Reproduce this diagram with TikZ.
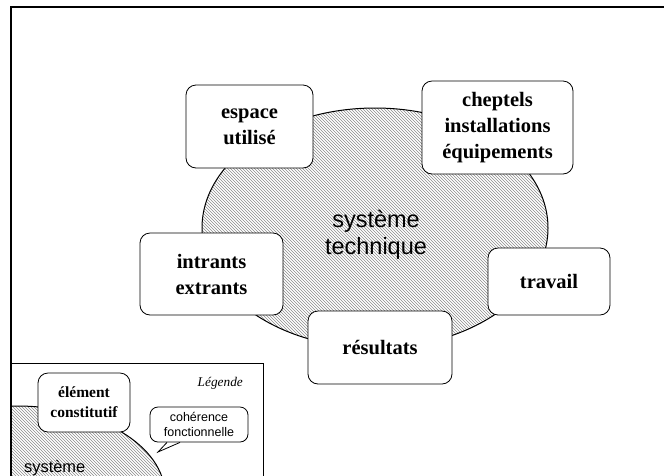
\documentclass[tikz,border=0pt]{standalone}
\usepackage{fontspec}
\setmainfont{Liberation Serif}
\setsansfont{Liberation Sans}
\usetikzlibrary{patterns}
\begin{document}
\begin{tikzpicture}[x=1pt,y=-1pt,
  elem/.style={draw, fill=white, rounded corners=10pt, line width=0.8pt,
    font=\fontsize{20.5}{26}\selectfont\bfseries, align=center, inner sep=0pt},
  hatch/.style={pattern=north west lines, pattern color=black!45},
  sansbig/.style={font=\sffamily\fontsize{23.5}{27}\selectfont, align=center, inner sep=0pt}]
\useasboundingbox (0,0) rectangle (664,475);
\fill[white] (0,0) rectangle (664,475);
% main ellipse
\draw[hatch, line width=1pt] (375,228) ellipse [x radius=173, y radius=120];
\node[sansbig] (sys) at (376,235) {système\\technique};
% elements
\node[elem, minimum width=127pt, minimum height=83pt] (esp) at (249.5,126.5) {espace\\utilisé};
\node[elem, minimum width=151pt, minimum height=93pt] (chep) at (497.5,127.5) {cheptels\\installations\\équipements};
\node[elem, minimum width=143pt, minimum height=82pt] (intr) at (211.5,274) {intrants\\extrants};
\node[elem, minimum width=122pt, minimum height=67pt] (trav) at (549,281.5) {travail};
\node[elem, minimum width=144pt, minimum height=73pt] (res) at (380,347.5) {résultats};
% legend
\begin{scope}
  \clip (10,363) rectangle (263,476);
  \draw[hatch, line width=1pt] (17,495) ellipse [x radius=148, y radius=89];
\end{scope}
\draw[line width=0.8pt] (10,363) -- (263,363) -- (263,476);
\node[font=\fontsize{13.3}{15}\selectfont\itshape, anchor=east, inner sep=0pt] (leg) at (243,383) {Légende};
\node[elem, font=\fontsize{15.5}{20}\selectfont\bfseries, minimum width=92pt, minimum height=59pt] (elt) at (84,402.5) {élément\\constitutif};
\node[draw, fill=white, rounded corners=8pt, line width=0.8pt, minimum width=98pt, minimum height=35pt,
  font=\sffamily\fontsize{12.5}{15}\selectfont, align=center, inner sep=0pt] (bub) at (199,424.5) {cohérence\\fonctionnelle};
\coordinate (pa) at ([xshift=-32pt]bub.south);
\coordinate (pb) at ([xshift=-19pt]bub.south);
\coordinate (ptip) at (158,452);
\fill[white] ([yshift=-1pt]pa) -- (ptip) -- ([yshift=-1pt]pb) -- cycle;
\draw[line width=0.8pt] (pa) -- (ptip) -- (pb);
\node[font=\sffamily\fontsize{16.4}{18}\selectfont, anchor=base west, inner sep=0pt] (lsys) at (24,472) {système};
% outer frame
\draw[line width=2pt] (10.5,476) -- (10.5,7) -- (665,7);
\end{tikzpicture}
\end{document}
